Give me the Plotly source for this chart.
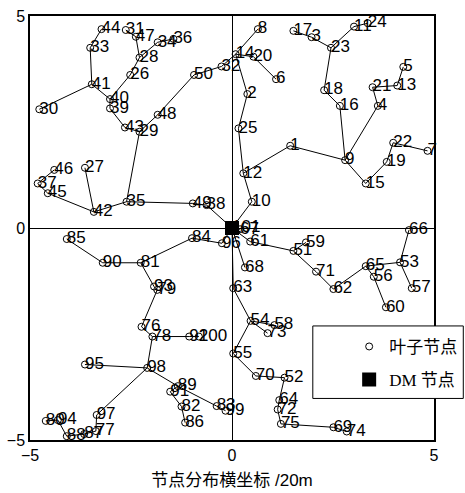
import plotly.graph_objects as go

# ---- data: node ids and coordinates (units of 20 m) ----
node_id = list(range(1, 101))
node_x = [1.44, 0.38, 1.97, 3.61, 4.24, 1.09, 4.84, 0.64, 2.80, 0.49,
          3.02, 0.28, 4.09, 0.09, 3.31, 2.67, 1.52, 2.28, 3.83, 0.53,
          3.48, 3.99, 2.45, 3.36, 0.16, -2.52, -3.64, -2.29, -2.29, -4.77,
          -2.63, -0.26, -3.51, -1.84, -2.61, -1.45, -4.81, -0.63, -3.02, -3.02,
          -3.47, -3.42, -2.65, -3.23, -4.56, -4.40, -2.38, -1.84, -0.97, -0.94,
          1.52, 1.30, 4.16, 0.46, 0.03, 3.51, 4.45, 1.05, 1.83, 3.81,
          0.45, 2.51, 0.03, 1.17, 3.31, 4.38, 0.20, 0.32, 2.51, 0.59,
          2.08, 1.13, 0.88, 2.84, 1.21, -2.24, -3.37, -1.97, -1.85, -4.61,
          -2.26, -1.25, -0.38, -0.99, -4.09, -1.16, -3.66, -4.09, -1.34, -3.20,
          -1.53, -1.06, -1.93, -4.31, -3.64, -0.25, -3.35, -2.10, -0.16, -0.82]
node_y = [1.94, 3.16, 4.50, 2.88, 3.80, 3.51, 1.82, 4.69, 1.60, 0.62,
          4.75, 1.29, 3.36, 4.10, 1.05, 2.88, 4.65, 3.25, 1.56, 4.04,
          3.32, 2.01, 4.25, 4.83, 2.35, 3.61, 1.42, 4.02, 2.27, 2.80,
          4.67, 3.81, 4.25, 4.38, 0.62, 4.46, 1.05, 0.54, 2.82, 3.04,
          3.39, 0.38, 2.37, 4.69, 0.82, 1.37, 4.51, 2.67, 0.58, 3.61,
          -0.54, -3.53, -0.81, -2.19, -2.96, -1.15, -1.42, -2.29, -0.34, -1.87,
          -0.32, -1.44, -1.42, -4.06, -0.90, -0.05, -0.03, -0.93, -4.70, -3.49,
          -1.03, -4.28, -2.48, -4.80, -4.62, -2.33, -4.79, -2.56, -1.46, -4.55,
          -0.82, -4.21, -4.20, -0.24, -0.26, -4.59, -4.86, -4.91, -3.73, -0.82,
          -3.86, -2.56, -1.38, -4.53, -3.22, -0.36, -4.41, -3.30, -4.31, -2.56]

dm_id = 101
dm_x = [0.0]
dm_y = [0.0]

edges = [(101, 38), (38, 49), (49, 35), (35, 42), (42, 45), (45, 37), (37, 46), (42, 27),
         (35, 29), (29, 43), (43, 39), (39, 40), (40, 41), (41, 30), (41, 33), (33, 44),
         (40, 26), (26, 28), (28, 47), (47, 31), (28, 34), (34, 36), (29, 48), (48, 50),
         (50, 32), (32, 14),
         (101, 10), (10, 12), (12, 25), (25, 2), (2, 14), (14, 8), (14, 20), (20, 6),
         (12, 1), (1, 9), (9, 16), (16, 18), (18, 23), (23, 3), (3, 17), (23, 11), (11, 24),
         (9, 4), (4, 21), (21, 13), (13, 5), (9, 15), (15, 19), (19, 22), (22, 7),
         (101, 67), (101, 61), (61, 51), (51, 59), (51, 71), (71, 62), (62, 65), (65, 53),
         (53, 66), (53, 57), (65, 56), (56, 60),
         (101, 68), (101, 63), (63, 54), (54, 58), (54, 73), (54, 55), (55, 70), (70, 52),
         (52, 64), (64, 72), (72, 75), (75, 69), (69, 74),
         (101, 96), (96, 84), (84, 81), (81, 90), (90, 85), (81, 93), (93, 79), (79, 76),
         (76, 78), (78, 92), (92, 100), (78, 98), (98, 95), (98, 97), (97, 77), (77, 87),
         (87, 88), (88, 94), (94, 80), (98, 89), (89, 91), (91, 82), (82, 86), (89, 83),
         (83, 99)]

legend_names = ["叶子节点", "DM 节点"]
x_title = "节点分布横坐标 /20m"
tick_vals = [-5, 0, 5]

# ---- build ----
pos = {i: (x, y) for i, x, y in zip(node_id, node_x, node_y)}
pos[dm_id] = (dm_x[0], dm_y[0])

ex, ey = [], []
for a, b in edges:
    ex += [pos[a][0], pos[b][0], None]
    ey += [pos[a][1], pos[b][1], None]

fig = go.Figure()
fig.add_trace(go.Scatter(x=ex, y=ey, mode="lines", line=dict(color="black", width=1),
                         showlegend=False, hoverinfo="skip", cliponaxis=False))
fig.add_trace(go.Scatter(x=node_x, y=node_y, mode="markers", name=legend_names[0],
                         marker=dict(symbol="circle-open", size=7, color="black",
                                     line=dict(width=1, color="black")),
                         cliponaxis=False, legendgroup="a"))
fig.add_trace(go.Scatter(x=node_x + dm_x, y=node_y + dm_y, mode="text",
                         text=[str(i) for i in node_id] + [str(dm_id)],
                         textposition="middle right",
                         textfont=dict(family="Liberation Sans, Arial", size=17, color="black"),
                         showlegend=False, hoverinfo="skip", cliponaxis=False))
fig.add_trace(go.Scatter(x=dm_x, y=dm_y, mode="markers", name=legend_names[1],
                         marker=dict(symbol="square", size=14, color="black"),
                         cliponaxis=False, legendgroup="b"))

axis_common = dict(range=[-5, 5], tickvals=tick_vals, showgrid=False, automargin=False,
                   zeroline=True, zerolinecolor="black", zerolinewidth=1,
                   showline=True, mirror=True, linecolor="black", linewidth=1.5,
                   ticks="", tickfont=dict(family="Liberation Sans, Arial", size=16, color="black"))

fig.update_layout(
    width=465, height=493,
    margin=dict(l=30, r=31, t=16, b=53, autoexpand=False),
    paper_bgcolor="white", plot_bgcolor="white",
    xaxis=dict(**axis_common,
               title=dict(text=x_title, standoff=11,
                          font=dict(family="Liberation Sans, Noto Sans CJK SC", size=17, color="black"))),
    yaxis=dict(**axis_common),
    shapes=[dict(type="rect", xref="paper", yref="paper", x0=0.700, x1=1.0725, y0=0.098, y1=0.269,
                 fillcolor="white", line=dict(color="black", width=1), layer="above")],
    legend=dict(x=0.79, y=0.262, xanchor="left", yanchor="top",
                bgcolor="rgba(0,0,0,0)", borderwidth=0,
                font=dict(family="Liberation Serif, Noto Sans CJK SC", size=17, color="black"),
                traceorder="grouped", tracegroupgap=8),
    showlegend=True,
)

fig.write_html("out.html", post_script="document.body.style.margin='0';",
               config={"displayModeBar": False})
